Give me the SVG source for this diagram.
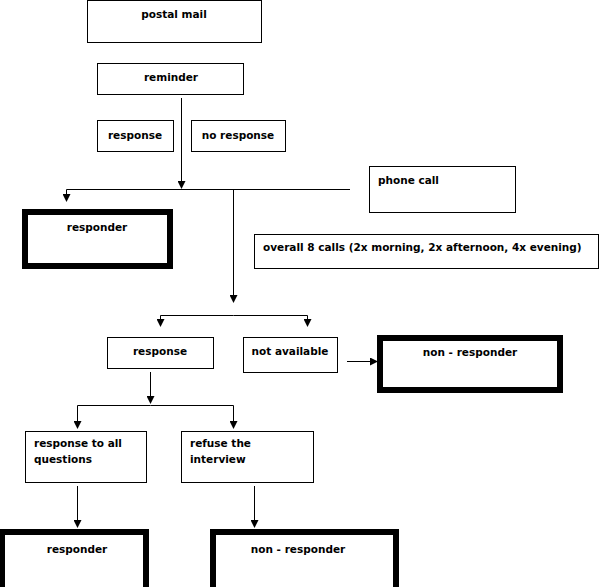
<svg xmlns="http://www.w3.org/2000/svg" width="600" height="587" viewBox="0 0 600 587">
<defs>
<marker id="ah" markerWidth="8" markerHeight="8" refX="7" refY="4" orient="auto" markerUnits="userSpaceOnUse">
<path d="M0,0 L8,4 L0,8 z" fill="#000"/>
</marker>
<style>
.b{fill:#fff;stroke:#000;stroke-width:1}
.t{fill:#fff;stroke:#000;stroke-width:6}
text{font-family:"DejaVu Sans","Liberation Sans",Arial,sans-serif;font-size:10.5px;font-weight:bold;fill:#000}
.c{text-anchor:middle}
.ln{fill:none;stroke:#000;stroke-width:1}
</style>
</defs>
<rect width="600" height="587" fill="#fff"/>
<g id="postal"><rect class="b" x="87.5" y="0.5" width="174" height="42"/><text class="c" x="174" y="18">postal mail</text></g>
<g id="reminder"><rect class="b" x="97.5" y="63.5" width="146" height="31"/><text class="c" x="171" y="81">reminder</text></g>
<g id="resp1"><rect class="b" x="97.5" y="120.5" width="76" height="31"/><text class="c" x="135" y="139">response</text></g>
<g id="noresp"><rect class="b" x="191.5" y="120.5" width="94" height="31"/><text class="c" x="238" y="139">no response</text></g>
<g id="phone"><rect class="b" x="369.5" y="166.5" width="146" height="46"/><text x="378" y="184">phone call</text></g>
<g id="responder1"><rect class="t" x="25" y="212" width="145" height="54"/><text class="c" x="97" y="231">responder</text></g>
<g id="overall"><rect class="b" x="254.5" y="234.5" width="344" height="34"/><text x="263" y="251">overall 8 calls (2x morning, 2x afternoon, 4x evening)</text></g>
<g id="resp2"><rect class="b" x="107.5" y="337.5" width="106" height="31"/><text class="c" x="160" y="355">response</text></g>
<g id="notavail"><rect class="b" x="243.5" y="337.5" width="94" height="35"/><text class="c" x="290" y="355">not available</text></g>
<g id="nonresp1"><rect class="t" x="380" y="338" width="180" height="52"/><text class="c" x="470" y="356">non - responder</text></g>
<g id="allq"><rect class="b" x="25.5" y="431.5" width="121" height="51"/><text x="34" y="447">response to all</text><text x="34" y="463">questions</text></g>
<g id="refuse"><rect class="b" x="181.5" y="431.5" width="132" height="51"/><text x="190" y="447">refuse the</text><text x="190" y="463">interview</text></g>
<g id="responder2"><rect class="t" x="2" y="532" width="144" height="58"/><text class="c" x="77" y="553">responder</text></g>
<g id="nonresp2"><rect class="t" x="213" y="532" width="183" height="58"/><text class="c" x="298" y="553">non - responder</text></g>
<g id="connectors">
<path class="ln" d="M181.5,98 V188" marker-end="url(#ah)"/>
<path class="ln" d="M350,189.5 H66.5 V201" marker-end="url(#ah)"/>
<path class="ln" d="M233.5,189 V302" marker-end="url(#ah)"/>
<path class="ln" d="M233.5,315.5 H160.5 V326" marker-end="url(#ah)"/>
<path class="ln" d="M233.5,315.5 H307.5 V326" marker-end="url(#ah)"/>
<path class="ln" d="M347,361.5 H377" marker-end="url(#ah)"/>
<path class="ln" d="M150.5,372 V403" marker-end="url(#ah)"/>
<path class="ln" d="M150.5,405.5 H77.5 V428" marker-end="url(#ah)"/>
<path class="ln" d="M150.5,405.5 H233.5 V428" marker-end="url(#ah)"/>
<path class="ln" d="M77.5,486 V527" marker-end="url(#ah)"/>
<path class="ln" d="M254.5,486 V527" marker-end="url(#ah)"/>
</g>
</svg>
